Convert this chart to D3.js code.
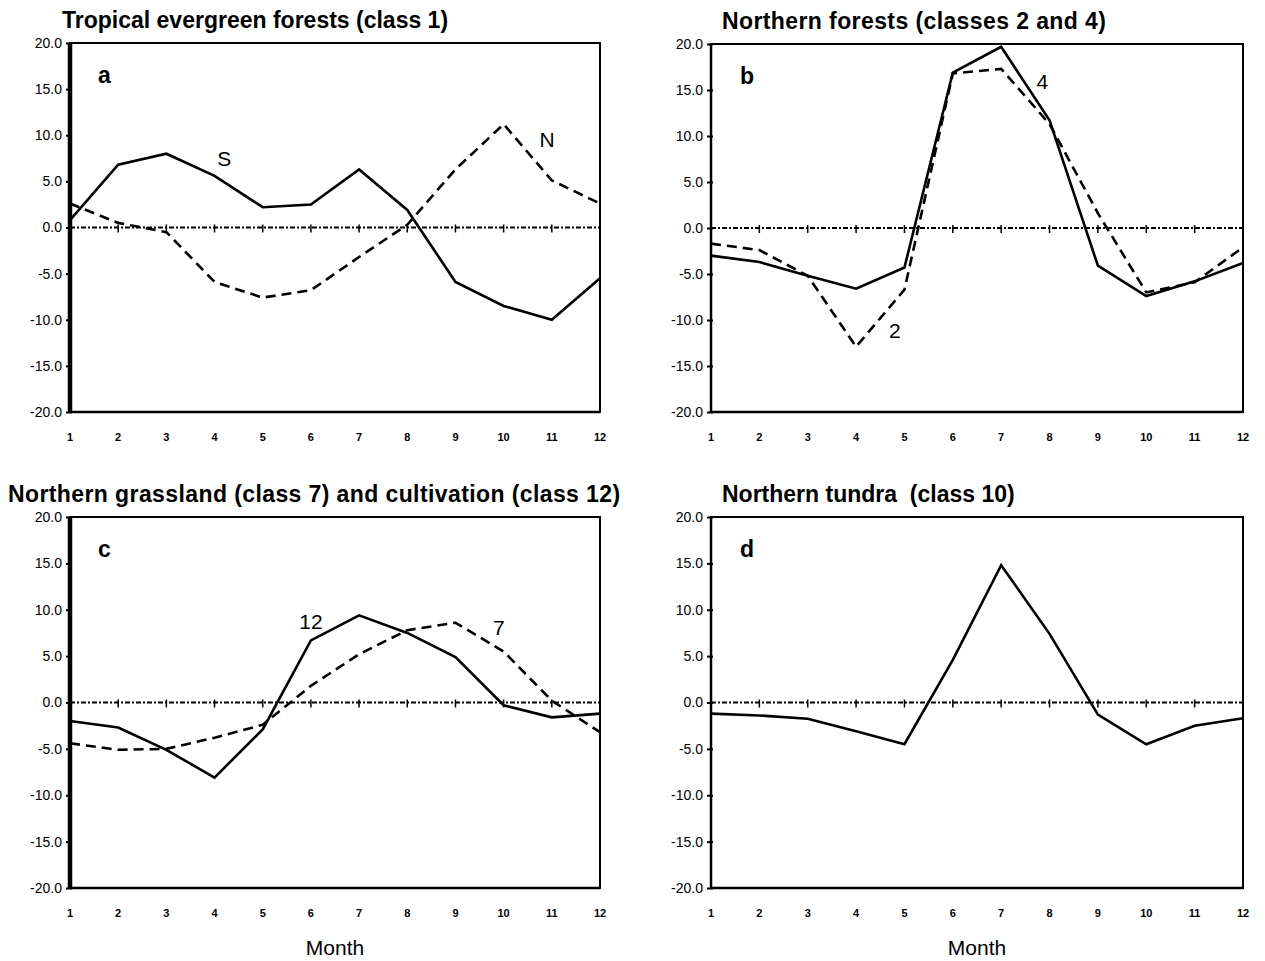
<!DOCTYPE html>
<html lang="en">
<head>
<meta charset="UTF-8"/>
<title>Monthly anomalies by land class</title>
<script src="https://d3js.org/d3.v7.min.js"></script>
<style>
  body { margin: 0; background: #fff; }
  text { font-family: "Liberation Sans", Arial, Helvetica, sans-serif; fill: #000; }
</style>
</head>
<body>
<script>
// ***Data***
var months = [1, 2, 3, 4, 5, 6, 7, 8, 9, 10, 11, 12];
var yTicks = [-20, -15, -10, -5, 0, 5, 10, 15, 20];

var tropicalS = [0.8, 6.8, 8.0, 5.6, 2.2, 2.5, 6.3, 1.9, -5.9, -8.5, -10.0, -5.5];
var tropicalN = [2.6, 0.5, -0.5, -5.9, -7.6, -6.8, -3.2, 0.3, 6.3, 11.2, 5.1, 2.6];

var forest4 = [-3.0, -3.7, -5.2, -6.6, -4.3, 16.9, 19.7, 11.7, -4.1, -7.4, -5.8, -3.8];
var forest2 = [-1.7, -2.4, -5.2, -12.9, -6.7, 16.8, 17.3, 11.3, 1.6, -7.0, -5.9, -2.1];

var cultivation12 = [-2.0, -2.7, -5.1, -8.1, -2.9, 6.7, 9.4, 7.5, 4.9, -0.3, -1.6, -1.2];
var grassland7 = [-4.4, -5.1, -5.0, -3.8, -2.4, 1.8, 5.2, 7.8, 8.6, 5.5, 0.2, -3.2];

var tundra10 = [-1.2, -1.4, -1.75, -3.1, -4.5, 4.6, 14.8, 7.4, -1.3, -4.5, -2.5, -1.7];

var w = 1265;
var h = 961;

var svg = d3.select("body")
			.append("svg")
			.attr("width", w)
			.attr("height", h);

// one panel of the figure
function panel(p) {
	var xScale = d3.scaleLinear().domain([1, 12]).range([p.left, p.right]);
	var yScale = d3.scaleLinear().domain([-20, 20]).range([p.bottom, p.top]);
	var g = svg.append("g");

	// title
	g.append("text")
		.attr("x", p.titleX)
		.attr("y", p.top - 15)
		.attr("font-size", 23)
		.attr("font-weight", "bold")
		.attr("letter-spacing", p.titleSpacing || 0)
		.attr("xml:space", "preserve")
		.text(p.title);

	// frame
	g.append("rect")
		.attr("x", p.left).attr("y", p.top)
		.attr("width", p.right - p.left).attr("height", p.bottom - p.top)
		.attr("fill", "none").attr("stroke", "#000").attr("stroke-width", 2);
	g.append("line")
		.attr("x1", p.left).attr("x2", p.left)
		.attr("y1", p.top).attr("y2", p.bottom)
		.attr("stroke", "#000").attr("stroke-width", p.axisWidth);
	g.append("line")
		.attr("x1", p.left).attr("x2", p.right)
		.attr("y1", p.bottom).attr("y2", p.bottom)
		.attr("stroke", "#000").attr("stroke-width", 2.5);

	// y axis
	var yAxis = d3.axisLeft(yScale)
		.tickValues(yTicks)
		.tickSize(6)
		.tickPadding(4)
		.tickFormat(function(d) { return d.toFixed(1); });
	var ya = g.append("g")
		.attr("transform", "translate(" + (p.left + 2) + ",0)")
		.call(yAxis);
	ya.select(".domain").remove();
	ya.selectAll("line").attr("stroke-width", 2);
	ya.selectAll("text")
		.attr("font-size", 14)
		.style("font-family", "'Liberation Sans', Arial, sans-serif");

	// month labels
	g.selectAll(".month")
		.data(months)
		.enter()
		.append("text")
		.attr("class", "month")
		.attr("x", function(d) { return xScale(d); })
		.attr("y", p.bottom + 29)
		.attr("text-anchor", "middle")
		.attr("font-size", 11)
		.attr("font-weight", "bold")
		.text(function(d) { return d; });

	// zero reference line with month ticks
	g.append("line")
		.attr("x1", xScale(1)).attr("x2", xScale(12))
		.attr("y1", yScale(0)).attr("y2", yScale(0))
		.attr("stroke", "#000").attr("stroke-width", 2)
		.attr("stroke-dasharray", "5,2,2,2");
	g.selectAll(".ztick")
		.data(months.slice(1))
		.enter()
		.append("line")
		.attr("x1", function(d) { return xScale(d); })
		.attr("x2", function(d) { return xScale(d); })
		.attr("y1", yScale(0) - 3)
		.attr("y2", yScale(0) + 5)
		.attr("stroke", "#000").attr("stroke-width", 1.5);

	// series
	var line = d3.line()
		.x(function(d, i) { return xScale(months[i]); })
		.y(function(d) { return yScale(d); });
	p.series.forEach(function(s) {
		g.append("path")
			.datum(s.values)
			.attr("d", line)
			.attr("fill", "none")
			.attr("stroke", "#000")
			.attr("stroke-width", 2.6)
			.attr("stroke-linejoin", "miter")
			.attr("stroke-dasharray", s.dashed ? "10,6" : null);
	});

	// panel letter
	g.append("text")
		.attr("x", p.letterX)
		.attr("y", p.top + 40)
		.attr("font-size", 23)
		.attr("font-weight", "bold")
		.text(p.letter);

	// curve labels
	p.labels.forEach(function(l) {
		g.append("text")
			.attr("x", xScale(l.m))
			.attr("y", yScale(l.v))
			.attr("text-anchor", "middle")
			.attr("font-size", 21)
			.text(l.t);
	});

	if (p.month) {
		g.append("text")
			.attr("x", (p.left + p.right) / 2)
			.attr("y", p.bottom + 67)
			.attr("text-anchor", "middle")
			.attr("font-size", 21)
			.text("Month");
	}
}

panel({
	left: 70, right: 600, top: 43, bottom: 412, axisWidth: 4.5,
	title: "Tropical evergreen forests (class 1)", titleX: 62,
	letter: "a", letterX: 98,
	series: [{ values: tropicalS, dashed: false }, { values: tropicalN, dashed: true }],
	labels: [{ t: "S", m: 4.2, v: 6.7 }, { t: "N", m: 10.9, v: 8.7 }],
	month: false
});

panel({
	left: 711, right: 1243, top: 44, bottom: 412, axisWidth: 2.5,
	title: "Northern forests (classes 2 and 4)", titleX: 722,
	titleSpacing: 0.4,
	letter: "b", letterX: 740,
	series: [{ values: forest4, dashed: false }, { values: forest2, dashed: true }],
	labels: [{ t: "4", m: 7.85, v: 15.1 }, { t: "2", m: 4.8, v: -12.0 }],
	month: false
});

panel({
	left: 70, right: 600, top: 517, bottom: 888, axisWidth: 4.5,
	title: "Northern grassland (class 7) and cultivation (class 12)", titleX: 8,
	titleSpacing: 0.4,
	letter: "c", letterX: 98,
	series: [{ values: cultivation12, dashed: false }, { values: grassland7, dashed: true }],
	labels: [{ t: "12", m: 6.0, v: 7.9 }, { t: "7", m: 9.9, v: 7.3 }],
	month: true
});

panel({
	left: 711, right: 1243, top: 517, bottom: 888, axisWidth: 2.5,
	title: "Northern tundra  (class 10)", titleX: 722,
	letter: "d", letterX: 740,
	series: [{ values: tundra10, dashed: false }],
	labels: [],
	month: true
});
</script>
</body>
</html>
